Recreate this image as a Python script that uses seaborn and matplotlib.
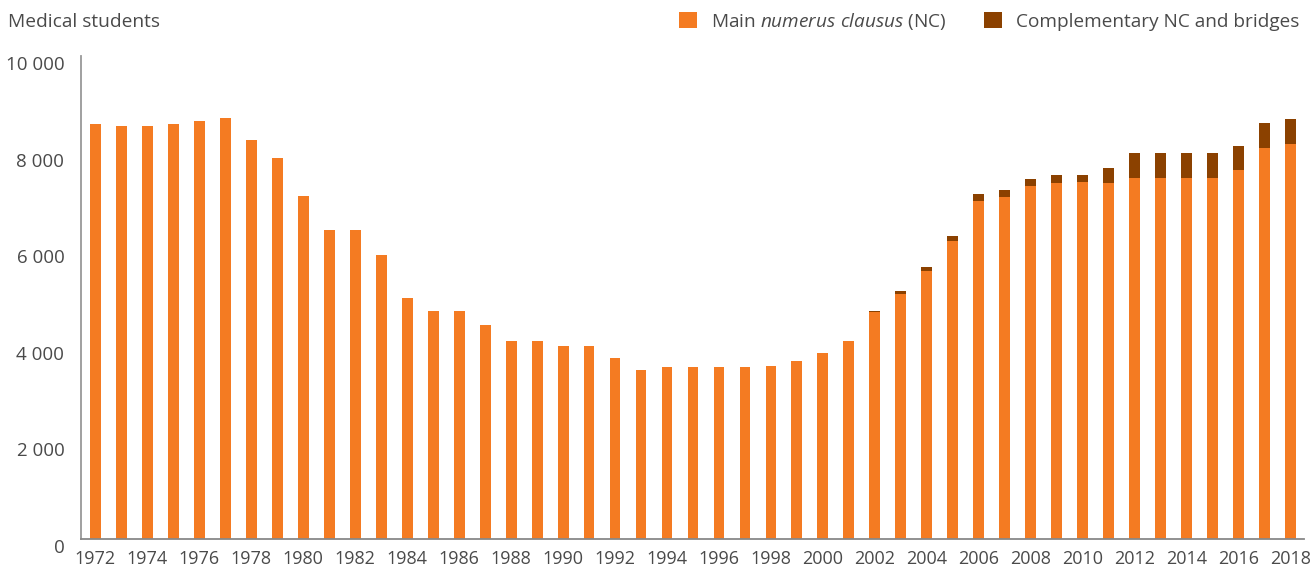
import matplotlib
matplotlib.use("Agg")
import matplotlib.pyplot as plt
import matplotlib.patches as mpatches
import seaborn as sns
import pandas as pd

years = list(range(1972, 2019))
main_nc = [8588, 8553, 8553, 8595, 8660, 8720, 8265, 7890, 7110, 6390,
           6390, 5890, 4980, 4730, 4730, 4440, 4090, 4090, 3990, 3990,
           3750, 3500, 3570, 3570, 3570, 3570, 3580, 3680, 3850, 4090,
           4690, 5080, 5540, 6180, 7000, 7090, 7300, 7380, 7400, 7380,
           7480, 7480, 7480, 7480, 7630, 8100, 8180]
complementary = [0] * 30 + [40, 60, 85, 100, 145, 145, 145, 165, 145, 310,
                            515, 515, 515, 515, 515, 515, 515]
tick_labels = [str(y) if y % 2 == 0 else "" for y in years]

ORANGE = "#F47B22"
BROWN = "#8B4100"
TEXT = "#4a4a4a"

df = pd.DataFrame({"year": [str(y) for y in years], "main": main_nc,
                   "comp": complementary})
df["total"] = df["main"] + df["comp"]

sns.set_style("white")
plt.rcParams["font.family"] = ["Open Sans", "DejaVu Sans"]
plt.rcParams["mathtext.fontset"] = "custom"
plt.rcParams["mathtext.rm"] = "Open Sans"
plt.rcParams["mathtext.it"] = "Open Sans:italic"

fig = plt.figure(figsize=(13.12, 5.74), dpi=100)
ax = fig.add_axes([0.0617, 0.061, 0.932, 0.8414])

# brown = total, orange drawn over it -> stacked look
sns.barplot(data=df, x="year", y="total", color=BROWN, width=0.42,
            saturation=1, linewidth=0, ax=ax)
sns.barplot(data=df, x="year", y="main", color=ORANGE, width=0.42,
            saturation=1, linewidth=0, ax=ax)

ax.set_xlim(-0.55, len(years) - 0.5)
ax.set_ylim(0, 10000)
ax.set_yticks([0, 2000, 4000, 6000, 8000, 10000])
ax.set_yticklabels(["0", "2 000", "4 000", "6 000", "8 000", "10 000"])
ax.set_xticks(range(len(years)))
ax.set_xticklabels(tick_labels)
ax.set_xlabel("")
ax.set_ylabel("")
ax.tick_params(axis="both", length=0, labelsize=13, colors=TEXT)
ax.tick_params(axis="y", labelsize=13.5, pad=12)
ax.tick_params(axis="x", pad=8)
for lab in ax.get_yticklabels():
    lab.set_verticalalignment("top")

sns.despine(ax=ax)
ax.spines["left"].set_color("#999999")
ax.spines["bottom"].set_color("#888888")
ax.spines["left"].set_linewidth(1.3)
ax.spines["bottom"].set_linewidth(1.3)

fig.text(0.006, 0.961, "Medical students", fontsize=13.8, color=TEXT,
         va="center", ha="left")

handles = [mpatches.Patch(color=ORANGE, linewidth=0,
                          label=r"Main $\mathit{numerus\ clausus}$ (NC)"),
           mpatches.Patch(color=BROWN, linewidth=0,
                          label="Complementary NC and bridges")]
leg = fig.legend(handles=handles, loc="center right",
                 bbox_to_anchor=(0.998, 0.963), ncol=2, frameon=False,
                 fontsize=13.7, handlelength=0.95, handleheight=0.95,
                 handletextpad=0.75, columnspacing=2.0, borderpad=0)
for t in leg.get_texts():
    t.set_color(TEXT)

fig.savefig("out.png", dpi=100)
